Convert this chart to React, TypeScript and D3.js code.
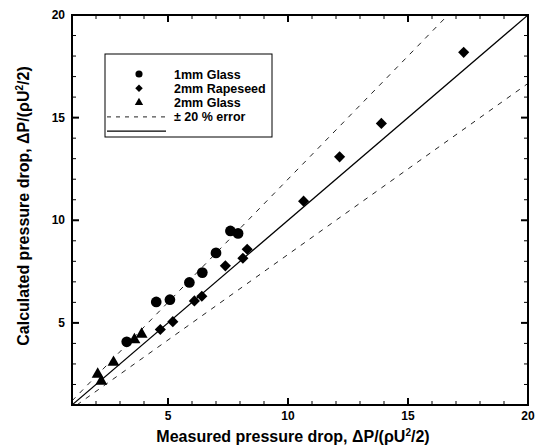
import React from 'react';
import * as d3 from 'd3';

const glass1mm: [number, number][] = [
  [3.28, 4.08], [4.51, 6.02], [5.08, 6.13], [5.89, 6.97],
  [6.43, 7.45], [7.0, 8.41], [7.6, 9.48], [7.92, 9.36],
];
const rapeseed2mm: [number, number][] = [
  [4.68, 4.68], [5.2, 5.06], [6.1, 6.07], [6.41, 6.3], [7.39, 7.78],
  [8.12, 8.15], [8.3, 8.59], [10.65, 10.93], [12.15, 13.09],
  [13.89, 14.72], [17.32, 18.18],
];
const glass2mm: [number, number][] = [
  [2.07, 2.5], [2.22, 2.16], [2.73, 3.08], [3.6, 4.18], [3.9, 4.45],
];
const xTicks = [5, 10, 15, 20];
const yTicks = [5, 10, 15, 20];
const minorTicks = d3.range(1, 21);
const legendLabels = ['1mm Glass', '2mm Rapeseed', '2mm Glass', '\u00B1 20 % error'];
const errorRatio = 1.2;

const W = 541, H = 446;
const FONT = '"Liberation Sans", Arial, sans-serif';

export default function App() {
  const x = d3.scaleLinear().domain([1, 20]).range([72, 528]);
  const y = d3.scaleLinear().domain([1, 20]).range([405, 15]);
  const line = d3.line<[number, number]>().x(d => x(d[0])).y(d => y(d[1]));

  const circlePath = d3.symbol(d3.symbolCircle, 90)()!;
  const diamondPath = d3.symbol(d3.symbolSquare, 62)()!;
  const trianglePath = d3.symbol(d3.symbolTriangle, 62)()!;
  const lCircle = d3.symbol(d3.symbolCircle, 40)()!;
  const lDiamond = d3.symbol(d3.symbolSquare, 28)()!;
  const lTriangle = d3.symbol(d3.symbolTriangle, 30)()!;

  const [x0, x1] = x.range();
  const [y0, y1] = y.range();

  const ticksEls: React.ReactNode[] = [];
  minorTicks.forEach(t => {
    const major = t % 5 === 0;
    const len = major ? 7 : 4;
    const sw = major ? 2 : 1;
    if (t > 1 && t < 20) {
      ticksEls.push(<line key={'bx' + t} x1={x(t)} x2={x(t)} y1={y0} y2={y0 - len} stroke="#000" strokeWidth={sw} />);
      ticksEls.push(<line key={'tx' + t} x1={x(t)} x2={x(t)} y1={y1} y2={y1 + len} stroke="#000" strokeWidth={sw} />);
      ticksEls.push(<line key={'ly' + t} x1={x0} x2={x0 + len} y1={y(t)} y2={y(t)} stroke="#000" strokeWidth={sw} />);
      ticksEls.push(<line key={'ry' + t} x1={x1} x2={x1 - len} y1={y(t)} y2={y(t)} stroke="#000" strokeWidth={sw} />);
    }
  });

  const legendX = 105, legendY = 54;
  const rowY = (i: number) => 74 + i * 14.3;

  return (
    <svg width={W} height={H} style={{ position: 'absolute', left: 0, top: 0, background: '#fff' }} fontFamily={FONT}>
      <defs>
        <clipPath id="plot">
          <rect x={x0} y={y1} width={x1 - x0} height={y0 - y1} />
        </clipPath>
      </defs>
      <g clipPath="url(#plot)">
        <path d={line([[1, 1], [20, 20]])!} stroke="#000" strokeWidth={1.2} fill="none" />
        <path d={line([[1, errorRatio], [20 / errorRatio, 20]])!} stroke="#222" strokeWidth={1} strokeDasharray="5,6" fill="none" />
        <path d={line([[errorRatio, 1], [20, 20 / errorRatio]])!} stroke="#222" strokeWidth={1} strokeDasharray="5,6" fill="none" />
      </g>
      {ticksEls}
      <rect x={x0} y={y1} width={x1 - x0} height={y0 - y1} fill="none" stroke="#000" strokeWidth={2} />
      {xTicks.map(t => (
        <text key={'xl' + t} x={x(t)} y={420} textAnchor="middle" fontSize={12} fontWeight="bold">{t}</text>
      ))}
      {yTicks.map(t => (
        <text key={'yl' + t} x={65} y={y(t) + 4} textAnchor="end" fontSize={12} fontWeight="bold">{t}</text>
      ))}
      {glass1mm.map((d, i) => (
        <path key={'c' + i} d={circlePath} transform={`translate(${x(d[0])},${y(d[1])})`} fill="#000" />
      ))}
      {rapeseed2mm.map((d, i) => (
        <path key={'d' + i} d={diamondPath} transform={`translate(${x(d[0])},${y(d[1])}) rotate(45)`} fill="#000" />
      ))}
      {glass2mm.map((d, i) => (
        <path key={'t' + i} d={trianglePath} transform={`translate(${x(d[0])},${y(d[1])})`} fill="#000" />
      ))}
      <g>
        <rect x={legendX} y={legendY} width={167} height={83} fill="#fff" stroke="#000" strokeWidth={1} />
        <path d={lCircle} transform={`translate(139,${rowY(0)})`} fill="#000" />
        <path d={lDiamond} transform={`translate(139,${rowY(1)}) rotate(45)`} fill="#000" />
        <path d={lTriangle} transform={`translate(139,${rowY(2)})`} fill="#000" />
        <line x1={107} x2={166} y1={rowY(3)} y2={rowY(3)} stroke="#222" strokeWidth={1} strokeDasharray="4,5" />
        <line x1={107} x2={166} y1={rowY(4)} y2={rowY(4)} stroke="#000" strokeWidth={1.2} />
        {legendLabels.map((l, i) => (
          <text key={'lg' + i} x={174} y={rowY(i) + 4.5} fontSize={12.5} fontWeight="bold">{l}</text>
        ))}
      </g>
      <text x={293} y={442} textAnchor="middle" fontSize={16} fontWeight="bold">
        Measured pressure drop, {'\u0394'}P/({'\u03C1'}U<tspan fontSize={10} dy={-6}>2</tspan><tspan dy={6}>/2)</tspan>
      </text>
      <text transform={`translate(29,${(y0 + y1) / 2 - 4}) rotate(-90)`} textAnchor="middle" fontSize={16} fontWeight="bold">
        Calculated pressure drop, {'\u0394'}P/({'\u03C1'}U<tspan fontSize={10} dy={-6}>2</tspan><tspan dy={6}>/2)</tspan>
      </text>
    </svg>
  );
}
